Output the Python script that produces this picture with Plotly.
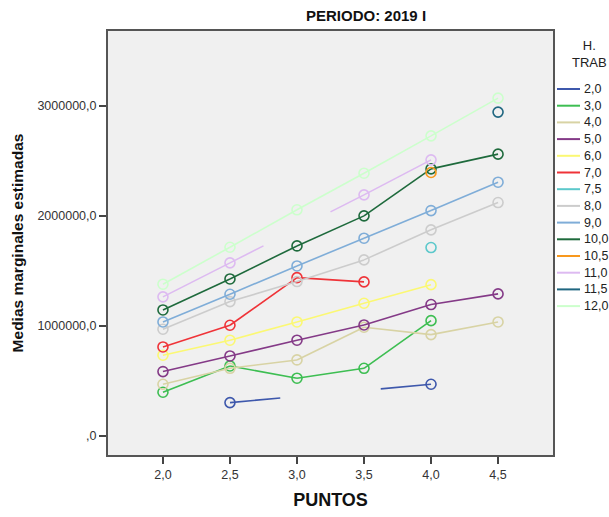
import plotly.graph_objects as go

# ---- data ----
puntos = [2.0, 2.5, 3.0, 3.5, 4.0, 4.5]
x_ticktext = ["2,0", "2,5", "3,0", "3,5", "4,0", "4,5"]
y_tickvals = [0, 1000000, 2000000, 3000000]
y_ticktext = [",0", "1000000,0", "2000000,0", "3000000,0"]

h_trab = ["2,0", "3,0", "4,0", "5,0", "6,0", "7,0", "7,5", "8,0",
          "9,0", "10,0", "10,5", "11,0", "11,5", "12,0"]

s_2_0 = [None, 303000, None, None, 470000, None]
s_3_0 = [397000, 636000, 525000, 615000, 1048000, None]
s_4_0 = [470000, 615000, 691000, 988000, 921000, 1036000]
s_5_0 = [585000, 727000, 870000, 1009000, 1194000, 1291000]
s_6_0 = [734000, 870000, 1036000, 1206000, 1375000, None]
s_7_0 = [809000, 1006000, 1439000, 1400000, None, None]
s_7_5 = [None, None, None, None, 1712000, None]
s_8_0 = [970000, 1221000, 1403000, 1600000, 1873000, 2121000]
s_9_0 = [1036000, 1288000, 1545000, 1797000, 2048000, 2306000]
s_10_0 = [1145000, 1427000, 1727000, 2000000, 2427000, 2561000]
s_10_5 = [None, None, None, None, 2394000, None]
s_11_0 = [1264000, 1573000, None, 2191000, 2509000, None]
s_11_5 = [None, None, None, None, None, 2943000]
s_12_0 = [1379000, 1715000, 2055000, 2388000, 2727000, 3070000]

series = [s_2_0, s_3_0, s_4_0, s_5_0, s_6_0, s_7_0, s_7_5, s_8_0,
          s_9_0, s_10_0, s_10_5, s_11_0, s_11_5, s_12_0]

colors = ["#3E58AC", "#3DBE52", "#D8D3A4", "#843A87", "#FBF873", "#EF3338",
          "#5CC8CB", "#CCCCCC", "#7FADD8", "#1E6A3C", "#F8981D", "#DDBAF1",
          "#1F6680", "#CCFFCC"]

# ---- figure geometry (pixels) ----
W, H = 609, 517
L, R, T, B = 108, 56, 31, 62
pw, ph = W - L - R, H - T - B

def px2paper_x(px):
    return (px - L) / pw

def px2paper_y(py):
    return (H - B - py) / ph

fig = go.Figure()

for name, vals, col in zip(h_trab, series, colors):
    pts = [(x, v) for x, v in zip(puntos, vals) if v is not None]
    lx, ly = [], []
    for (x0, y0), (x1, y1) in zip(pts[:-1], pts[1:]):
        if abs((x1 - x0) - 0.5) < 1e-9:
            lx += [x0, x1, None]
            ly += [y0, y1, None]
        else:
            # non-adjacent cells: SPSS draws a broken line
            f = 0.25
            lx += [x0, x0 + f * (x1 - x0), None, x1 - f * (x1 - x0), x1, None]
            ly += [y0, y0 + f * (y1 - y0), None, y1 - f * (y1 - y0), y1, None]
    if lx:
        fig.add_trace(go.Scatter(x=lx, y=ly, mode="lines",
                                 line=dict(color=col, width=1.6),
                                 showlegend=False, hoverinfo="skip"))
    fig.add_trace(go.Scatter(x=[p[0] for p in pts], y=[p[1] for p in pts],
                             mode="markers", name=name,
                             marker=dict(symbol="circle-open", size=10, color=col,
                                         line=dict(width=1.6, color=col)),
                             showlegend=False))

# ---- manual legend ----
font_fam = "Liberation Sans, Arial, sans-serif"
annotations = []
shapes = []
annotations.append(dict(text="H.<br>TRAB", xref="paper", yref="paper",
                        x=px2paper_x(589), y=px2paper_y(54), showarrow=False,
                        xanchor="center", yanchor="middle",
                        font=dict(family=font_fam, size=13, color="#222")))
for i, (name, col) in enumerate(zip(h_trab, colors)):
    py = 89 + i * 16.7
    shapes.append(dict(type="line", xref="paper", yref="paper",
                       x0=px2paper_x(557), x1=px2paper_x(580),
                       y0=px2paper_y(py), y1=px2paper_y(py),
                       line=dict(color=col, width=2)))
    annotations.append(dict(text=name, xref="paper", yref="paper",
                            x=px2paper_x(582), y=px2paper_y(py), showarrow=False,
                            xanchor="left", yanchor="middle",
                            font=dict(family=font_fam, size=12.5, color="#222")))

annotations.append(dict(text="<b>PERIODO: 2019 I</b>", xref="paper", yref="paper",
                        x=px2paper_x(366), y=px2paper_y(16), showarrow=False,
                        xanchor="center", yanchor="middle",
                        font=dict(family=font_fam, size=15, color="#111")))

fig.update_layout(
    width=W, height=H,
    margin=dict(l=L, r=R, t=T, b=B, autoexpand=False),
    paper_bgcolor="white",
    plot_bgcolor="#F0F0F0",
    font=dict(family=font_fam, color="#333"),
    shapes=shapes,
    annotations=annotations,
    showlegend=False,
)

fig.update_xaxes(range=[1.59, 4.91], tickvals=puntos, ticktext=x_ticktext,
                 automargin=False,
                 ticks="outside", ticklen=7, tickwidth=1.5, tickcolor="#444",
                 showgrid=False, zeroline=False,
                 showline=True, mirror=True, linecolor="#555", linewidth=2,
                 tickfont=dict(size=12.5, color="#333"),
                 title=dict(text="<b>PUNTOS</b>", standoff=12,
                            font=dict(size=18, color="#111")))
fig.update_yaxes(range=[-0.173e6, 3.68e6], tickvals=y_tickvals, ticktext=y_ticktext,
                 automargin=False,
                 ticks="outside", ticklen=7, tickwidth=1.5, tickcolor="#444",
                 showgrid=False, zeroline=False,
                 showline=True, mirror=True, linecolor="#555", linewidth=2,
                 tickfont=dict(size=12.5, color="#333"),
                 title=dict(text="<b>Medias marginales estimadas</b>", standoff=10,
                            font=dict(size=15.5, color="#111")))

fig.write_html("out.html", config={"displayModeBar": False},
               post_script="document.body.style.margin='0px';document.body.style.overflow='hidden';")
